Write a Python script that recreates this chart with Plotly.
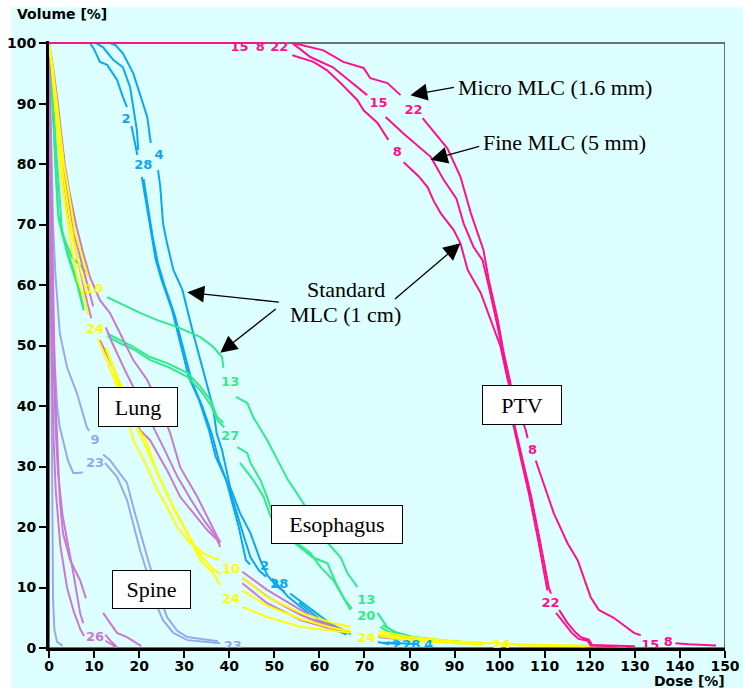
import plotly.graph_objects as go

# ================= DATA =================
# ---- PTV (magenta) ----
ptv15_dose = [0, 41, None, 54, 58, 63, 66, 70.6, None, 74.7, 78.7, 84.7, 87.5, 90.4, 92, 94.2, 96.2, 97.6, 99.6, 101.3,
              102.2, 103.4, 105.2, 107, 109, 110.9, 111.4, None, 113.2, 115, 116.8, 118, 119.8, 120.5, 130]
ptv15_vol = [100, 100, None, 100, 97.7, 96, 94.2, 91.4, None, 87.8, 85, 81.2, 77.5, 74.3, 70.2, 66.3, 64.1, 59.7, 53, 46.4,
             43, 36.5, 31, 25, 17.5, 10, 9, None, 6.3, 4.2, 2.6, 1.8, 1.4, 0.5, 0.3]
ptv22_dose = [0, 48.5, None, 54, 56, 60.9, 65.3, 69.8, 71.3, 75.1, 78, None, 82.9, 88.4, 91.3, 93.6, 96.4, 97.6, 99.6,
              100.9, 102.4, 103, 104.8, 106.5, 108.5, 110.3, 110.6, None, 112.5, 114, 116, 117.5, 119.5, 120.2, 126]
ptv22_vol = [100, 100, None, 100, 99.7, 98.8, 96.9, 95.9, 94.2, 93.4, 91.4, None, 87.6, 82.6, 77.9, 71.9, 65.8, 60.8, 54.2,
             48.8, 43.8, 37, 31, 25.5, 18, 10.5, 9.5, None, 5.8, 4.3, 2.5, 1.5, 1.2, 0.4, 0.3]
ptv8_dose = [0, 45.5, None, 54, 58.7, 61.7, 64.7, 68.4, 69.8, 72.9, 75.3, None, 78.7, 82, 84, 85.3, 86.9, 89.8, 91.3, 92.9,
             95.8, 98, 100.2, 101.8, 103.8, 105.8, 106.2, None, 108, 110, 112, 115, 117.3, 120.2, 122, 125.3, 129.8,
             131.3, None, 139, 142, 148]
ptv8_vol = [100, 100, None, 98, 96.9, 95.5, 93.4, 90.6, 88.9, 86.8, 84, None, 80.3, 78, 76.2, 74, 71.9, 69.1, 66.9, 62.5,
            58.7, 54.2, 49.8, 44.3, 40, 36, 34.7, None, 31, 26.5, 22.3, 17.4, 14.5, 8.4, 6.3, 5, 2.5, 2.1, None, 0.8, 0.6,
            0.4]
ptv_label_text = ["15", "8", "22", "15", "22", "8", "8", "22", "15", "8"]
ptv_label_dose = [42.3, 46.9, 51.1, 73.1, 80.9, 77.3, 107.3, 111.3, 133.4, 137.4]
ptv_label_vol = [99.3, 99.3, 99.3, 90, 88.9, 81.8, 32.6, 7.3, 0.3, 0.9]

# ---- blue curves ----
blue2_dose = [0, 9.1, 10, 11.3, 12.9, 15.1, 16.4, 17.3, None, 18.3, 19.2, 19.6, None, 20.6, 21.5, 22.6, 23.7, 25, 27.3,
              29.5, 31, 33.3, 35.5, 37, 39.3, 42.1, 43.7, 44.6, None, 49.5, 53, 58, 62, 66, None, 73, 75.5]
blue2_vol = [100, 100, 99, 96.9, 96.4, 93.9, 91.1, 89.4, None, 86.3, 83, 81.5, None, 77.9, 74, 68.6, 64.1, 60.8, 55.9,
             49.3, 44.8, 41, 36, 31.6, 27.8, 20, 14.5, 13.8, None, 11.5, 8.5, 5.5, 3.5, 2.2, None, 1, 0.6]
blue28_dose = [0, 10.5, 12, 14.3, 16.4, 18, 18.7, 19.5, 19.8, None, 21, 21.9, 23, 24.2, 25.6, 27.9, 30.1, 31.7, 34, 36.2,
               37.7, 40.2, 42.8, 44.7, 46.6, 48.2, None, 53.5, 58.5, 62.5, 66.5, None, 74, 78]
blue28_vol = [100, 100, 99.3, 97.2, 96, 92.7, 89.4, 85.6, 82.3, None, 77.5, 73.5, 68, 63.5, 60, 55, 48.5, 44, 40, 35.2,
              31, 26, 19.5, 15, 12.8, 11.8, None, 9, 6.2, 4, 2.5, None, 0.9, 0.6]
blue4_dose = [0, 13.5, 14.7, 16.4, 18.7, 20.2, 21.8, 22.4, 22.6, None, 24.2, 24.7, 25.3, 26.2, 27.6, 29.6, 32, 33.6,
              35.1, 36.4, 37.2, 38.4, 40.2, 42.4, 44.7, 46.9, 48.5, 50.5, 52.3, None, 55.5, 60, 64, 67, None, 75, 82]
blue4_vol = [100, 100, 99.7, 98.3, 95, 91.7, 87.8, 84.5, 83.5, None, 79, 76.2, 70.2, 66.9, 62.5, 59.2, 52, 47.6,
             43.1, 39.8, 35.5, 32.7, 26.6, 22.3, 19, 14.5, 12, 10.2, 9.3, None, 7.5, 4.8, 3, 2.3, None, 0.9, 0.6]
blue_label_text = ["2", "28", "4", "2", "28", "2", "28", "4"]
blue_label_dose = [17.1, 20.9, 24.4, 47.8, 51.1, 77.1, 80.4, 84.2]
blue_label_vol = [87.4, 79.7, 81.3, 13.4, 10.4, 0.3, 0.3, 0.3]

# ---- Esophagus (green) ----
eso13_dose = [0, 0.5, 1, 1.6, 2.4, 2.9, 5.1, 8.4, None, 12.9, 17.3, 20.2, 24, 28.4, 33.6, 36.4, 38.4, 38.7, None, 41.5,
              44, 45.3, 48.4, 50.7, 53, 55, 58.5, 61.8, 64.7, 66.2, 68.4, None, 72.9, 75, 76.5, 80.2, 86.9, 92]
eso13_vol = [100, 96, 90, 82, 74, 68.6, 64.6, 62.1, None, 58, 56.4, 55.4, 54.2, 53.1, 51.4, 49.8, 48.1, 46.3, None, 41.5,
             40.5, 38.2, 34.4, 31.1, 27.8, 25.6, 21.5, 17.4, 15, 12.4, 10.1, None, 5.8, 3.5, 2.6, 1.8, 1.3, 1]
eso27_dose = [0, 0.4, 0.9, 1.4, 2, 4, 6.2, 7.6, None, 12.9, 15.8, 18.7, 22.4, 26.2, 30.7, 33.6, 35.8, 37.3, 38.7, None,
              41.8, 44, 44.7, 46.9, 48.4, 49.8, 52, 55, 58, 60.2, 63.1, 65.3, 66.9, None, 73.5, 76, 80, 86]
eso27_vol = [100, 95, 88, 80, 71.9, 65.8, 60.8, 56.4, None, 52, 50.9, 49.8, 48.1, 47.1, 45.5, 43.2, 41, 38.2, 37.2, None,
             33.2, 32.2, 30.6, 27.8, 25, 21.7, 19, 17.4, 15.7, 13.4, 11.2, 8.4, 6.3, None, 3.5, 2.4, 1.7, 1.2]
eso20_dose = [0, 0.45, 1, 1.5, 2.1, 4.1, 6.3, 7.7, None, 13, 16, 19, 22.5, 26.3, 30.8, 33.8, 36, 37.5, 38.9, None, 42.4,
              45.3, 47.6, 49.2, 53.6, 58.5, 61.8, 63.5, 65.6, 67.2, None, 74, 77, 81, 88, 95]
eso20_vol = [100, 95, 87, 79, 71, 65, 60, 55.8, None, 51.5, 50.3, 49.3, 47.6, 46.5, 44.8, 42.4, 40, 37.5, 36.5, None, 30.6,
             27.8, 25, 21.7, 17.9, 15, 14, 11, 8, 6.5, None, 3.8, 2.6, 1.8, 1.2, 0.8]
eso_label_text = ["13", "27", "13", "20"]
eso_label_dose = [40.2, 40.2, 70.4, 70.4]
eso_label_vol = [43.8, 35.0, 7.8, 5.2]

# ---- Lung (yellow) ----
lungY10_dose = [0, 0.8, 1.6, 2.5, 3.3, 4, 5.8, 7.6, 8.7, None, 12.6, 14.2, 16.4, 18.7, 21.8, 24, 26.2, 28.4, 31.3, 34.2,
                36.4, 37.8, None, 42.9, 48.4, 55.8, 63.1, 66.9, None, 73.1, 80, 90, 96]
lungY10_vol = [100, 96, 91, 85, 80, 77, 68.6, 64.1, 61.3, None, 49.5, 46.4, 41, 34.4, 29.9, 26.1, 23.3, 20, 17.4, 15.7,
               14.9, 14.6, None, 11.6, 8.4, 5.8, 4.1, 3.5, None, 2.8, 1.8, 1.1, 0.9]
lungYc_dose = [0, 0.7, 1.4, 2.3, 3.1, 4.2, 5.5, 7, 8.4, None, 12.6, 14.5, 17, 19.8, 22.5, 25, 28, 31, 34, 36.5, 38, None,
               42.9, 48.4, 55.8, 63, 66.9, None, 73.1, 80, 90, 100, 110, 128]
lungYc_vol = [100, 96, 90.5, 84, 78.5, 73, 67, 62.5, 58.5, None, 49.8, 46, 41.5, 36, 31.5, 27.5, 22.5, 18.5, 15, 13, 12.2,
              None, 9.5, 7, 4.8, 3.3, 2.8, None, 2.3, 1.5, 1, 0.7, 0.5, 0.3]
lungY24_dose = [0, 0.6, 1.3, 2.2, 2.9, 3.8, 5.1, 6.4, 8, 8.7, None, 10.8, 13.5, 16.4, 19.5, 21.5, 24, 27.6, 30.7, 33.6,
                36.4, 38, None, 42.9, 48.4, 55.8, 66.9, None, 73.1, 80, 90, 96.4, None, 104, 119]
lungY24_vol = [100, 96, 90, 83, 77, 72, 65.8, 60.8, 57.5, 55, None, 51.2, 46.4, 41, 36.5, 34.4, 28.9, 23.3, 19, 14.5,
               12.4, 10.4, None, 6.8, 5.1, 3.5, 2.5, None, 2, 1.3, 0.8, 0.6, None, 0.4, 0.3]
lungY_label_text = ["10", "24", "10", "24", "24", "24"]
lungY_label_dose = [10.0, 10.2, 40.4, 40.4, 70.4, 100.4]
lungY_label_vol = [59.2, 52.6, 12.9, 7.9, 1.5, 0.3]

# ---- Lung (violet) ----
lungVa_dose = [0, 0.9, 1.8, 2.7, 3.5, 4.5, 6, 7.5, 9.1, 11.3, 13.5, 15.8, 18.7, 21.8, 24.7, 26.9, 29.1, 32.9, 35.8, 38,
               None, 42.9, 48.4, 55.8, 62, 66.9, None, 73.1, 80, 86.9]
lungVa_vol = [100, 96, 91, 85, 80, 75.5, 70, 65.5, 61.3, 57.5, 55.4, 52, 47.6, 44.3, 39.8, 35.5, 29.9, 25, 20.7, 17.4,
              None, 12.6, 9.6, 6.3, 3.9, 2.6, None, 2.1, 1.6, 1.3]
lungVb_dose = [0, 0.7, 1.5, 2.4, 3.2, 4.3, 5.7, 7.2, 8.5, 9.4, None, 11.3, 14.2, 17.3, 20.2, 22.4, 26.2, 29.1, 32, 35.1,
               37.3, 38, None, 42.9, 48.4, 55.8, 62, 66.9, None, 73.1, 80, 85]
lungVb_vol = [100, 96, 90, 83, 77.5, 72, 66.5, 61.5, 57, 54.5, None, 50.9, 46.4, 41, 36, 34.4, 29.4, 25, 22.3, 19.5,
              17.9, 16.7, None, 10.7, 7.4, 4.6, 3.3, 2.5, None, 1.8, 1.3, 1.1]
lungVc_dose = [0, 0.8, 1.6, 2.5, 3.3, 4.4, 5.8, 7.3, 8.8, 9.8, None, 12.6, 14, 16.8, 19.8, 22.6, 25.5, 28.5, 31.5, 34.5,
               37, 38, None, 42.9, 48.4, 55.8, 62, 66.9, None, 73.1, 80, 86]
lungVc_vol = [100, 96, 90.5, 84, 78.5, 73.5, 68, 63.5, 59, 56.5, None, 53, 50.5, 46, 41.5, 37.5, 33, 28.3, 24.5, 21,
              18.5, 17.5, None, 11.6, 8.5, 5.5, 3.6, 2.6, None, 1.9, 1.4, 1.2]

# ---- steep violet curves (near spine) ----
vs13_dose = [0, 0.2, 0.4, 0.6, 0.9, 1.2, 1.5, 1.8, 2.4, 3.1, 4.7, 6.9, 8.2, None, 12, 15.1, 17.3, 19.5, 20.5]
vs13_vol = [100, 90, 80, 70, 58, 48, 40, 34.4, 24.5, 19, 14.5, 11.2, 8.2, None, 5.8, 2.5, 1.8, 0.8, 0.3]
vs10_dose = [0, 0.15, 0.3, 0.5, 0.8, 1.1, 1.5, 2, 3, 4, 5.4, 6.9, 7.6, None, 12.5, 13.5, 15]
vs10_vol = [100, 90, 80, 68, 55, 45, 36, 28.9, 22, 17.9, 12.4, 5.8, 4.1, None, 2.2, 1.3, 0.2]
vs26_dose = [0, 0.1, 0.25, 0.45, 0.7, 1, 1.5, 2.5, 4, 5.5, 7, 7.8, None, 12.5, 13.5, 15]
vs26_vol = [100, 88, 75, 60, 45, 35, 26, 17, 10, 6, 3, 2, None, 1.2, 0.8, 0.1]
vs_label_text = ["26"]
vs_label_dose = [10.2]
vs_label_vol = [1.7]

# ---- Spine (lavender) ----
spine9_dose = [0, 0.2, 0.5, 0.9, 1.4, 1.8, 2.4, 4, 6.2, 8.4, 8.9, None, 12, 13.5, 17.3, 18.7, 21.8, 24, 26.2, 28.5, 30.7,
               35.1, 37.5]
spine9_vol = [100, 92, 80, 70, 62, 57.5, 52, 46.4, 42.1, 36.5, 35.9, None, 32, 31.1, 27.3, 23.3, 15, 9.6, 5.1, 2.8, 1.8,
              1.3, 1.1]
spine23_dose = [0, 0.1, 0.3, 0.5, 0.8, 1.2, 1.8, 2.4, 3.1, 4.2, 5.4, 7.5, None, 12.4, 15.1, 17.3, 18.7, 20.2, 21.8, 23.1,
                25.3, 27.6, 30.7, 35.1, 38]
spine23_vol = [100, 92, 80, 68, 57, 48, 40, 36.5, 34.4, 31, 28.9, 29, None, 30.6, 28.3, 24.5, 20.7, 16.2, 12.4, 8.4,
               4.6, 2.5, 1.3, 1, 0.8]
spine3_dose = [0, 0.1, 0.2, 0.3, 0.4, 0.5, 0.6, 0.75, 0.9, 1.2, 1.8, 3]
spine3_vol = [100, 90, 78, 65, 52, 40, 28, 16, 8, 3, 1, 0.4]
spine_label_text = ["9", "23", "23"]
spine_label_dose = [10.2, 10.2, 40.8]
spine_label_vol = [34.2, 30.4, 0.2]

# ticks
x_ticks = [0, 10, 20, 30, 40, 50, 60, 70, 80, 90, 100, 110, 120, 130, 140, 150]
y_ticks = [0, 10, 20, 30, 40, 50, 60, 70, 80, 90, 100]

# ================= STYLE =================
BG = "#DDFFFF"
C_PTV = "#FF1090"
C_BLUE = "#0AA8F0"
C_GREEN = "#30EA8C"
C_YEL = "#FFFF00"
C_VIO = "#CC77D4"
C_LAV = "#98A8F0"
LBL_FONT = "DejaVu Sans"

fig = go.Figure()


def add_curve(dose, vol, color):
    fig.add_trace(go.Scatter(x=dose, y=vol, mode="lines", connectgaps=False,
                             line=dict(color=color, width=2), hoverinfo="skip",
                             showlegend=False))


def add_labels(texts, dose, vol, color):
    fig.add_trace(go.Scatter(x=dose, y=vol, text=texts, mode="text", textposition="middle center",
                             textfont=dict(family=LBL_FONT, size=13, color=color, weight="bold"),
                             cliponaxis=False, hoverinfo="skip", showlegend=False))


for d, v in [(spine9_dose, spine9_vol), (spine23_dose, spine23_vol), (spine3_dose, spine3_vol)]:
    add_curve(d, v, C_LAV)
for d, v in [(blue2_dose, blue2_vol), (blue28_dose, blue28_vol), (blue4_dose, blue4_vol)]:
    add_curve(d, v, C_BLUE)
for d, v in [(eso13_dose, eso13_vol), (eso27_dose, eso27_vol), (eso20_dose, eso20_vol)]:
    add_curve(d, v, C_GREEN)
for d, v in [(vs13_dose, vs13_vol), (vs10_dose, vs10_vol), (vs26_dose, vs26_vol),
             (lungVa_dose, lungVa_vol), (lungVb_dose, lungVb_vol), (lungVc_dose, lungVc_vol)]:
    add_curve(d, v, C_VIO)
for d, v in [(lungY10_dose, lungY10_vol), (lungYc_dose, lungYc_vol), (lungY24_dose, lungY24_vol)]:
    add_curve(d, v, C_YEL)
for d, v in [(ptv15_dose, ptv15_vol), (ptv8_dose, ptv8_vol), (ptv22_dose, ptv22_vol)]:
    add_curve(d, v, C_PTV)

add_labels(spine_label_text, spine_label_dose, spine_label_vol, C_LAV)
add_labels(vs_label_text, vs_label_dose, vs_label_vol, C_VIO)
add_labels(blue_label_text, blue_label_dose, blue_label_vol, C_BLUE)
add_labels(eso_label_text, eso_label_dose, eso_label_vol, C_GREEN)
add_labels(lungY_label_text, lungY_label_dose, lungY_label_vol, C_YEL)
add_labels(ptv_label_text, ptv_label_dose, ptv_label_vol, C_PTV)

tick_font = dict(family="DejaVu Sans", size=14, color="black", weight="bold")
serif = dict(family="Liberation Serif", size=22, color="black")

annotations = []
# organ boxes
for txt, xd, yv, w, h in [("Lung", 19.8, 39.8, 76, 36), ("Spine", 22.8, 9.7, 75, 35),
                          ("Esophagus", 63.8, 20.5, 128, 35), ("PTV", 105.0, 40.1, 76, 36)]:
    annotations.append(dict(x=xd, y=yv, xref="x", yref="y", text=txt, showarrow=False, font=serif,
                            bgcolor="white", bordercolor="black", borderwidth=1, borderpad=1,
                            width=w, height=h, xanchor="center", yanchor="middle"))
# MLC texts
annotations.append(dict(x=90.2, y=92.6, xref="x", yref="y", text="Micro MLC (1.6 mm)", showarrow=False,
                        font=serif, xanchor="left", yanchor="middle"))
annotations.append(dict(x=95.8, y=83.5, xref="x", yref="y", text="Fine MLC (5 mm)", showarrow=False,
                        font=serif, xanchor="left", yanchor="middle"))
annotations.append(dict(x=65.8, y=59.3, xref="x", yref="y", text="Standard", showarrow=False,
                        font=serif, xanchor="center", yanchor="middle"))
annotations.append(dict(x=65.8, y=55.2, xref="x", yref="y", text="MLC (1 cm)", showarrow=False,
                        font=serif, xanchor="center", yanchor="middle"))
# arrows (tip in data coords, tail offset in pixels)
for xt, yt, ax, ay in [(80.2, 91.4, 45, -8), (84.7, 80.7, 50, -14), (30.7, 58.8, 93, 10),
                       (38.0, 48.8, 57, -45), (91.3, 66.9, -67, 57)]:
    annotations.append(dict(x=xt, y=yt, xref="x", yref="y", text="", showarrow=True, ax=ax, ay=ay,
                            axref="pixel", ayref="pixel", arrowhead=2, arrowsize=2.6, arrowwidth=1.3,
                            arrowcolor="black", standoff=0))
# axis titles
annotations.append(dict(x=-0.0503, y=1.0445, xref="paper", yref="paper", text="Volume [%]", showarrow=False,
                        font=dict(family="DejaVu Sans", size=14, color="black", weight="bold"),
                        xanchor="left", yanchor="middle"))
annotations.append(dict(x=1.0015, y=-0.054, xref="paper", yref="paper", text="Dose [%]", showarrow=False,
                        font=dict(family="DejaVu Sans", size=14, color="black", weight="bold"),
                        xanchor="right", yanchor="middle", borderpad=0))

shapes = [
    # white strips at top/left of the picture
    dict(type="rect", xref="paper", yref="paper", x0=-0.08, x1=-0.0562, y0=-0.1, y1=1.1,
         fillcolor="white", line=dict(width=0), layer="below"),
    dict(type="rect", xref="paper", yref="paper", x0=-0.08, x1=1.05, y0=1.056, y1=1.1,
         fillcolor="white", line=dict(width=0), layer="below"),
    # frame
    dict(type="rect", xref="x", yref="y", x0=0, x1=150, y0=0, y1=100,
         line=dict(color="#444444", width=1.5), layer="below"),
]

fig.update_layout(
    width=743, height=688,
    margin=dict(l=49, r=18, t=41, b=40, pad=0, autoexpand=False),
    paper_bgcolor=BG, plot_bgcolor=BG,
    showlegend=False,
    annotations=annotations, shapes=shapes,
    xaxis=dict(range=[0, 150], tickvals=x_ticks, showgrid=False, zeroline=False, showline=True,
               linecolor="black", linewidth=3, ticks="outside", ticklen=7, tickwidth=2, tickcolor="black",
               tickfont=tick_font, automargin=False, ticklabelstandoff=-4),
    yaxis=dict(range=[0, 100.35], tickvals=y_ticks, showgrid=False, zeroline=False, showline=True,
               linecolor="black", linewidth=3, ticks="outside", ticklen=7, tickwidth=2, tickcolor="black",
               tickfont=tick_font, automargin=False),
    xaxis2=dict(range=[0, 150], tickvals=x_ticks, overlaying="x", anchor="y", side="bottom",
                showgrid=False, zeroline=False, showline=False, ticks="inside", ticklen=6, tickwidth=2,
                tickcolor="black", showticklabels=False, automargin=False),
    yaxis2=dict(range=[0, 100.35], tickvals=y_ticks, overlaying="y", anchor="x", side="left",
                showgrid=False, zeroline=False, showline=False, ticks="inside", ticklen=6, tickwidth=2,
                tickcolor="black", showticklabels=False, automargin=False),
)

fig.write_html("out.html", config={"displayModeBar": False},
               post_script="document.body.style.margin='0';document.body.style.padding='0';")
